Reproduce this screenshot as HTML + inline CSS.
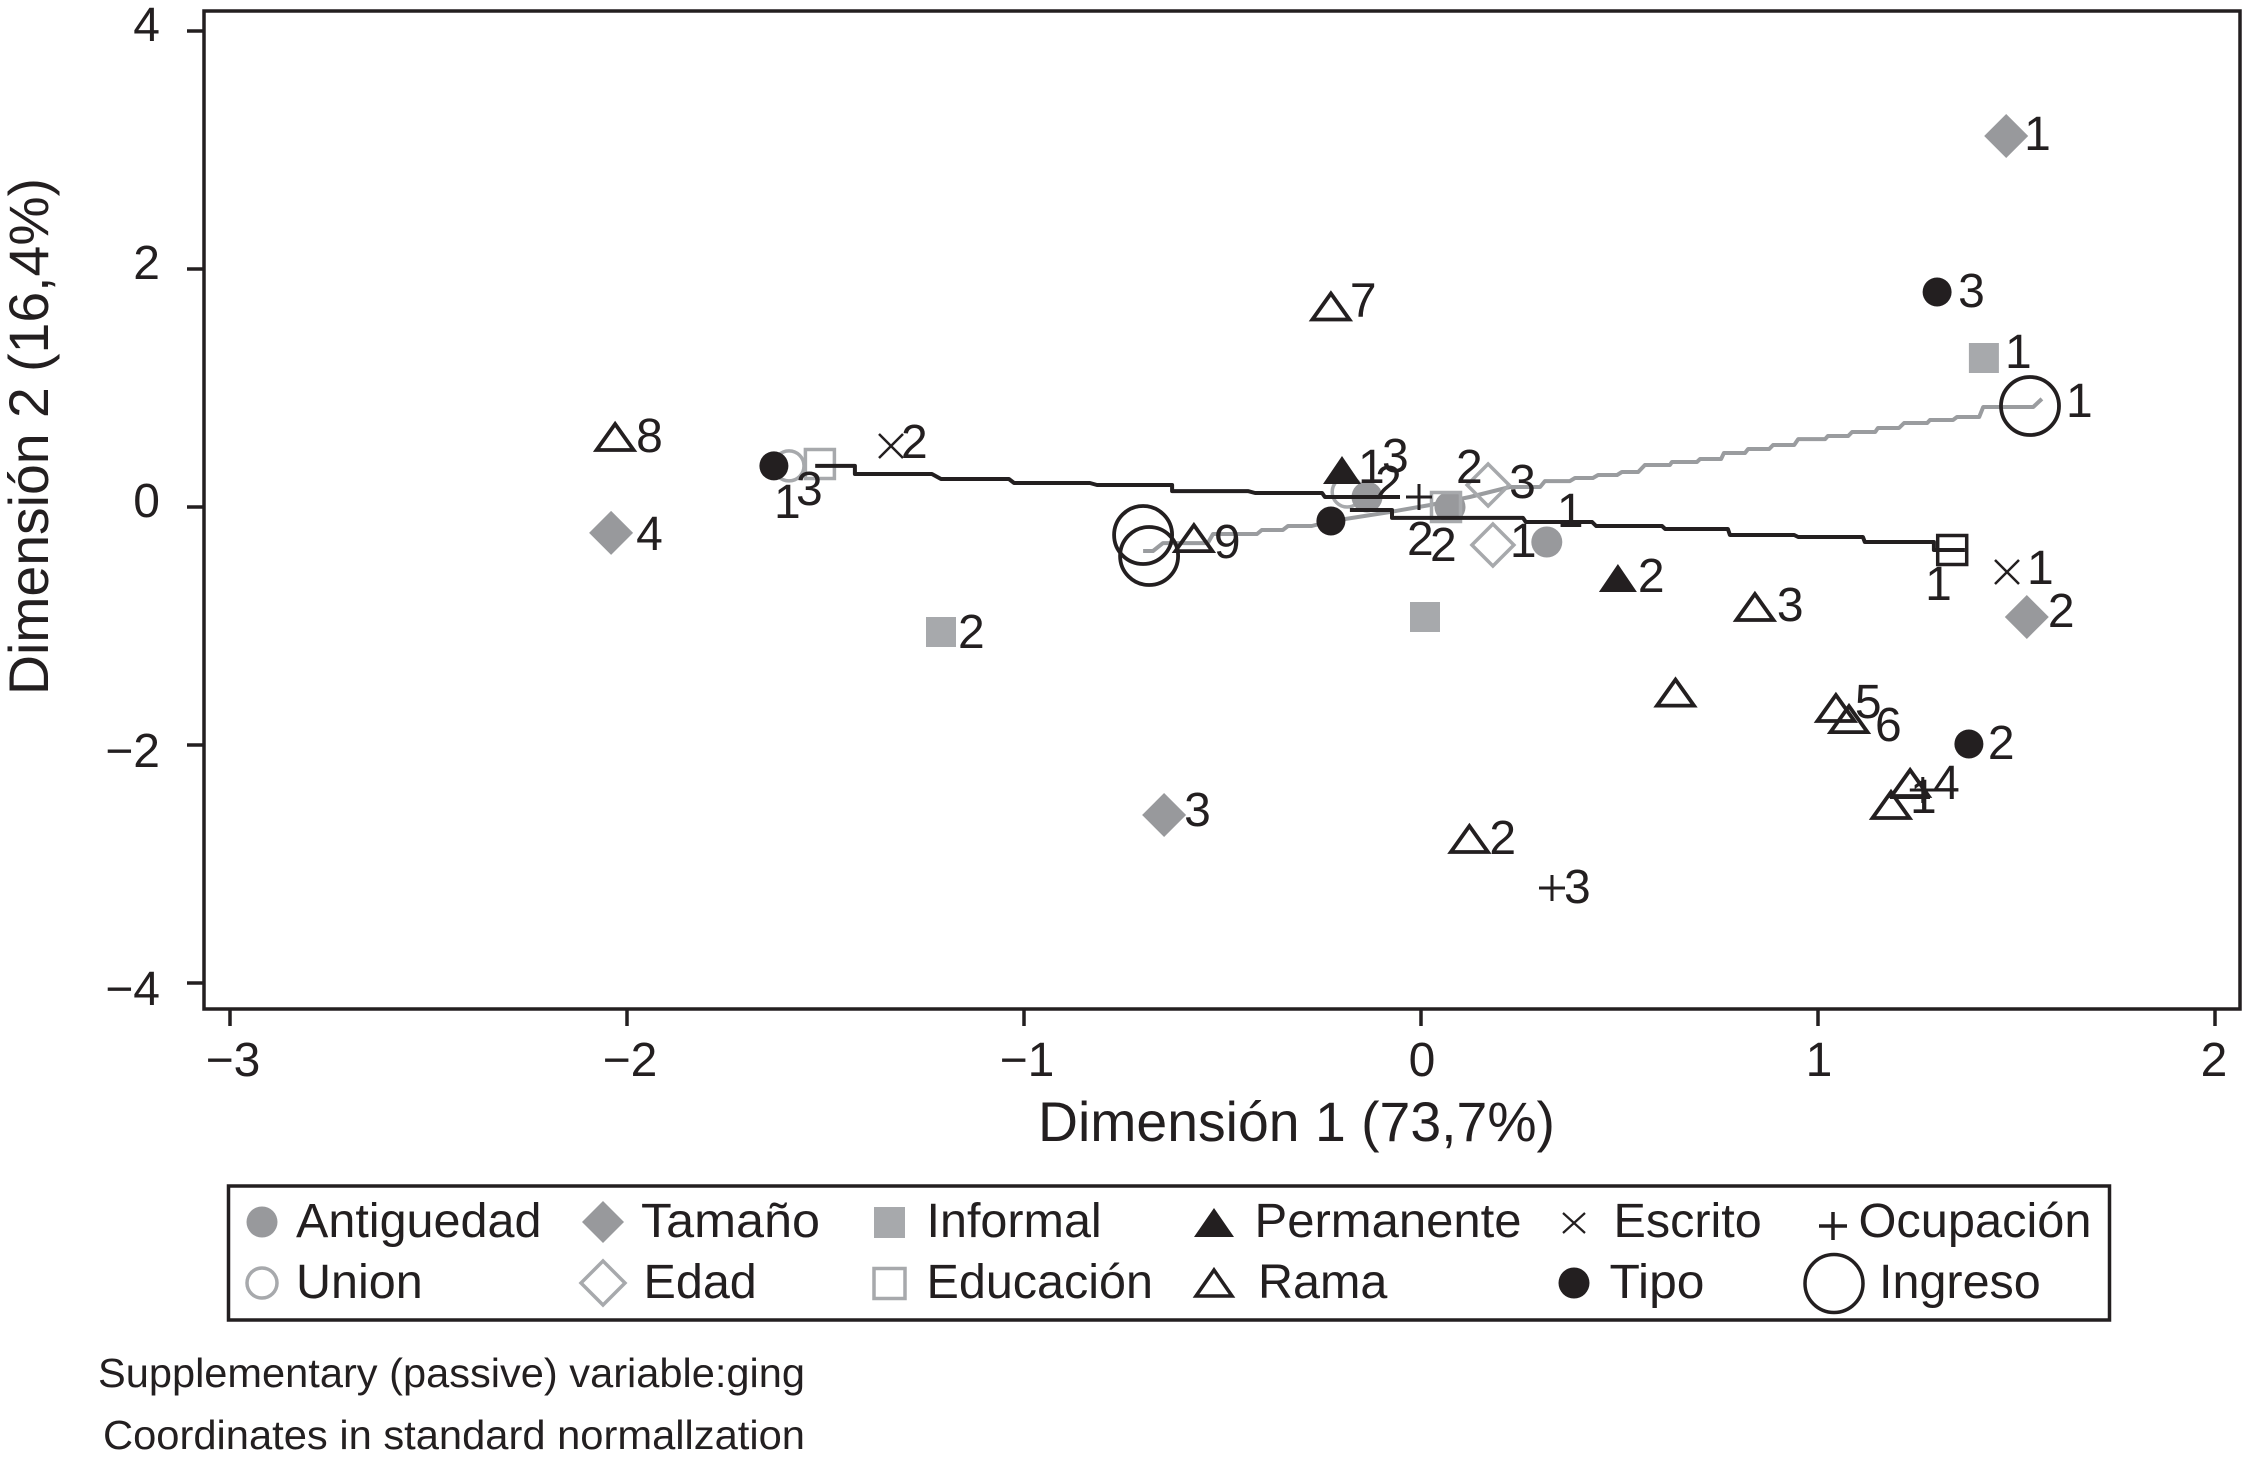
<!DOCTYPE html>
<html lang="es">
<head>
<meta charset="utf-8">
<title>Dimensión 1 vs Dimensión 2</title>
<style>
html,body{margin:0;padding:0;background:#fff;}
svg{display:block;}
text{font-family:"Liberation Sans",Arial,sans-serif;fill:#231f20;}
</style>
</head>
<body>
<svg id="chart" xmlns="http://www.w3.org/2000/svg" width="2242" height="1459" viewBox="0 0 2242 1459">
  <rect x="0" y="0" width="2242" height="1459" fill="#fff"/>
  <rect x="204" y="11" width="2036" height="998" fill="none" stroke="#231f20" stroke-width="3.5"/>
  <g id="ticks"></g>
  <text x="1038" y="1141" font-size="55.5" textLength="517" lengthAdjust="spacingAndGlyphs">Dimensión 1 (73,7%)</text>
  <text transform="translate(48,695) rotate(-90)" font-size="55.5" textLength="517" lengthAdjust="spacingAndGlyphs">Dimensión 2 (16,4%)</text>
  <g id="lines-under"></g>
  <g id="marks"></g>
  <g id="lines-over"></g>
  <g id="labels"></g>

  <g font-size="48.5">
    <rect x="228.5" y="1186" width="1881" height="134" fill="#fff" stroke="#231f20" stroke-width="3.5"/>
    <g><circle cx="262" cy="1222" r="15.5" fill="#98999c"/><text x="296" y="1237">Antiguedad</text></g>
    <g><polygon points="603,1201 624,1222 603,1243 582,1222" fill="#98999c"/><text x="641" y="1237" textLength="179" lengthAdjust="spacingAndGlyphs">Tamaño</text></g>
    <g><rect x="874" y="1207" width="31" height="31" fill="#a7a9ac"/><text x="926.5" y="1237">Informal</text></g>
    <g><polygon points="1214,1208 1234,1237 1194,1237" fill="#231f20"/><text x="1254.5" y="1237" textLength="267" lengthAdjust="spacingAndGlyphs">Permanente</text></g>
    <g><path d="M1563,1213L1585,1233M1585,1213L1563,1233" stroke="#231f20" stroke-width="2.2" fill="none"/><text x="1613.5" y="1237">Escrito</text></g>
    <g><path d="M1819,1226H1847M1833,1212V1240" stroke="#231f20" stroke-width="3.5" fill="none"/><text x="1858.5" y="1237" textLength="233" lengthAdjust="spacingAndGlyphs">Ocupación</text></g>
    <g><circle cx="262" cy="1283" r="15" fill="none" stroke="#a7a9ac" stroke-width="3.5"/><text x="296" y="1298">Union</text></g>
    <g><polygon points="603,1261 625,1283 603,1305 581,1283" fill="none" stroke="#a7a9ac" stroke-width="3.5"/><text x="643.5" y="1298">Edad</text></g>
    <g><rect x="874" y="1268.5" width="31" height="30" fill="none" stroke="#a7a9ac" stroke-width="3.5"/><text x="926.5" y="1298">Educación</text></g>
    <g><polygon points="1214,1270 1232,1296 1196,1296" fill="none" stroke="#231f20" stroke-width="3.5"/><text x="1258" y="1298">Rama</text></g>
    <g><circle cx="1574" cy="1283" r="15.5" fill="#231f20"/><text x="1609.5" y="1298" textLength="95" lengthAdjust="spacingAndGlyphs">Tipo</text></g>
    <g><circle cx="1834" cy="1283.5" r="29" fill="none" stroke="#231f20" stroke-width="3.5"/><text x="1879" y="1298">Ingreso</text></g>
  </g>

  <text x="98" y="1387" font-size="41" textLength="707" lengthAdjust="spacingAndGlyphs">Supplementary (passive) variable:ging</text>
  <text x="103" y="1449" font-size="41" textLength="702" lengthAdjust="spacingAndGlyphs">Coordinates in standard normallzation</text>
</svg>
<script>
const xTickValues = [-3, -2, -1, 0, 1, 2];
const yTickValues = [-4, -2, 0, 2, 4];

const antiguedadX = [0.317, 0.073, -0.136];
const antiguedadY = [-0.294, 0, 0.084];
const antiguedadLabels = ['1', '2', '3'];

const tamanoX = [1.474, 1.526, -0.647, -2.040];
const tamanoY = [3.118, -0.924, -2.588, -0.218];
const tamanoLabels = ['1', '2', '3', '4'];

const informalX = [1.418, -1.209, 0.010];
const informalY = [1.252, -1.050, -0.924];
const informalLabels = ['1', '2', ''];

const unionX = [-1.592, -0.186];
const unionY = [0.345, 0.126];
const unionLabels = ['1', '2'];

const edadX = [0.181, 0.169];
const edadY = [-0.319, 0.185];
const edadLabels = ['1', '3'];

const educacionX = [0.063, -1.514];
const educacionY = [0, 0.361];
const educacionLabels = ['2', '3'];

const educacionDarkX = [1.338];
const educacionDarkY = [-0.361];
const educacionDarkLabels = ['1'];

const permanenteX = [-0.199, 0.496];
const permanenteY = [0.311, -0.597];
const permanenteLabels = ['1', '2'];

const ramaX = [1.184, 0.122, 0.841, 0.641, 1.232, 1.045, 1.078, -0.227, -2.030, -0.572];
const ramaY = [-2.504, -2.790, -0.840, -1.560, -2.319, -1.689, -1.782, 1.685, 0.588, -0.261];
const ramaLabels = ['1', '2', '3', '', '4', '5', '6', '7', '8', '9'];

const escritoX = [1.476, -1.335];
const escritoY = [-0.546, 0.513];
const escritoLabels = ['1', '2'];

const tipoX = [1.300, 1.380, -1.630, -0.227];
const tipoY = [1.807, -1.992, 0.345, -0.118];
const tipoLabels = ['3', '2', '', ''];

const ocupacionX = [-0.005, 0.330, 1.264];
const ocupacionY = [0.084, -3.202, -2.378];
const ocupacionLabels = ['2', '3', ''];

const ingresoX = [1.534, -0.700, -0.685];
const ingresoY = [0.849, -0.235, -0.412];
const ingresoLabels = ['1', '', ''];

const blackLineLeftX = [-1.526,-1.426,-1.426,-1.232,-1.209,-1.038,-1.025,-0.834,-0.816,-0.627,-0.627,-0.436,-0.418,-0.249,-0.242,-0.053];
const blackLineLeftY = [0.345,0.345,0.277,0.277,0.235,0.235,0.202,0.202,0.185,0.185,0.134,0.134,0.118,0.118,0.084,0.084];

const blackLineRightX = [-0.179,-0.073,-0.073,0.257,0.264,0.431,0.441,0.607,0.615,0.773,0.778,0.940,0.950,1.113,1.118,1.292,1.292,1.370];
const blackLineRightY = [-0.025,-0.025,-0.092,-0.092,-0.126,-0.126,-0.160,-0.160,-0.185,-0.185,-0.235,-0.235,-0.252,-0.252,-0.294,-0.294,-0.361,-0.361];

const blackDashX = [1.181, 1.282];
const blackDashY = [-2.437, -2.437];

const greyLineX = [-0.700,-0.675,-0.650,-0.537,-0.524,-0.413,-0.401,-0.348,-0.335,-0.275,-0.227,-0.191,-0.078,0.023,0.123,0.224,0.300,0.312,0.375,0.388,0.433,0.446,0.494,0.506,0.547,0.564,0.627,0.632,0.695,0.703,0.756,0.763,0.816,0.824,0.877,0.887,0.940,0.950,1.018,1.025,1.076,1.086,1.144,1.151,1.204,1.217,1.275,1.282,1.340,1.350,1.406,1.416,1.542,1.564];
const greyLineY = [-0.370,-0.370,-0.303,-0.303,-0.227,-0.227,-0.193,-0.193,-0.160,-0.160,-0.118,-0.101,-0.042,0.017,0.084,0.168,0.168,0.218,0.218,0.244,0.244,0.269,0.269,0.294,0.294,0.353,0.353,0.378,0.378,0.403,0.403,0.454,0.454,0.487,0.487,0.521,0.521,0.571,0.571,0.597,0.597,0.630,0.630,0.664,0.664,0.706,0.706,0.731,0.731,0.756,0.756,0.840,0.840,0.908];

// Label placement relative to each marker (layout, not data)
const labelLayout = {
  antiguedad: [[10,-15],[-20,54],[15,-25]],
  tamano: [[18,14],[21,10],[20,11],[25,17]],
  informal: [[21,10],[17,16],[0,0]],
  union: [[-15,52],[28,7]],
  edad: [[17,12],[21,13]],
  educacion: [[10,-24],[-24,41]],
  educacionDark: [[-27,50]],
  permanente: [[16,13],[20,14]],
  rama: [[19,8],[20,15],[22,14],[0,0],[23,16],[19,10],[26,22],[19,10],[21,15],[20,20]],
  escrito: [[20,12],[10,12]],
  tipo: [[21,15],[19,15],[0,0],[0,0]],
  ocupacion: [[-12,58],[12,15],[0,0]],
  ingreso: [[36,11],[0,0],[0,0]]
};

const INK = '#231f20', GREY = '#98999c', LIGHT = '#a7a9ac', LINE_GREY = '#9a9c9f';
const NS = 'http://www.w3.org/2000/svg';
const xScale = v => 1421 + v * 397;
const yScale = v => 507 - v * 119;

function make(tag, parent, name, attrs) {
  const el = document.createElementNS(NS, tag);
  
  
  for (const k in attrs) el.setAttribute(k, attrs[k]);
  parent.appendChild(el);
  return el;
}

const ticksG = document.getElementById('ticks');
xTickValues.forEach(v => {
  const x = xScale(v);
  make('line', ticksG, 'x-tick', {x1: x, x2: x, y1: 1009, y2: 1026, stroke: INK, 'stroke-width': 3.5});
  const t = make('text', ticksG, 'x-tick-label', {x: x + (v === 2 ? -1 : (v < 0 ? 3 : 1)), y: 1076, 'font-size': 48, 'text-anchor': 'middle'});
  t.textContent = (v < 0 ? '\u2212' : '') + Math.abs(v);
});
yTickValues.forEach(v => {
  const y = yScale(v);
  make('line', ticksG, 'y-tick', {x1: 187, x2: 204, y1: y, y2: y, stroke: INK, 'stroke-width': 3.5});
  const t = make('text', ticksG, 'y-tick-label', {x: 160, y: y + (v < 0 ? 22 : 10), 'font-size': 48, 'text-anchor': 'end'});
  t.textContent = (v < 0 ? '\u2212' : '') + Math.abs(v);
});

function drawLine(parentId, name, xs, ys, color, width) {
  const pts = xs.map((x, i) => xScale(x).toFixed(1) + ',' + yScale(ys[i]).toFixed(1)).join(' ');
  make('polyline', document.getElementById(parentId), name, {points: pts, fill: 'none', stroke: color, 'stroke-width': width, 'stroke-linejoin': 'round'});
}
drawLine('lines-under', 'grey-stepped-line', greyLineX, greyLineY, LINE_GREY, 4);

const marksG = document.getElementById('marks');
const shapes = {
  dotGrey: (x, y, n) => make('circle', marksG, n, {cx: x, cy: y, r: 15.5, fill: GREY}),
  diamondGrey: (x, y, n) => make('polygon', marksG, n, {points: `${x},${y-22} ${x+22},${y} ${x},${y+22} ${x-22},${y}`, fill: GREY}),
  squareGrey: (x, y, n) => make('rect', marksG, n, {x: x-15, y: y-15, width: 30, height: 30, fill: LIGHT}),
  circleOpen: (x, y, n) => make('circle', marksG, n, {cx: x, cy: y, r: 15, fill: 'none', stroke: LIGHT, 'stroke-width': 3.5}),
  diamondOpen: (x, y, n) => make('polygon', marksG, n, {points: `${x},${y-21} ${x+21},${y} ${x},${y+21} ${x-21},${y}`, fill: 'none', stroke: LIGHT, 'stroke-width': 3.5}),
  squareOpen: (x, y, n) => make('rect', marksG, n, {x: x-14.5, y: y-14.5, width: 29, height: 29, fill: 'none', stroke: LIGHT, 'stroke-width': 3.5}),
  squareDark: (x, y, n) => make('rect', marksG, n, {x: x-14.5, y: y-14.5, width: 29, height: 29, fill: 'none', stroke: INK, 'stroke-width': 3.5}),
  triFilled: (x, y, n) => make('polygon', marksG, n, {points: `${x},${y-14} ${x+19},${y+14} ${x-19},${y+14}`, fill: INK}),
  triOpen: (x, y, n) => make('polygon', marksG, n, {points: `${x},${y-13} ${x+18.5},${y+13} ${x-18.5},${y+13}`, fill: 'none', stroke: INK, 'stroke-width': 3.8}),
  cross: (x, y, n) => make('path', marksG, n, {d: `M${x-12},${y-12}L${x+12},${y+12}M${x+12},${y-12}L${x-12},${y+12}`, fill: 'none', stroke: INK, 'stroke-width': 2.5}),
  dotBlack: (x, y, n) => make('circle', marksG, n, {cx: x, cy: y, r: 14.5, fill: INK}),
  plus: (x, y, n) => make('path', marksG, n, {d: `M${x-13},${y}H${x+13}M${x},${y-13}V${y+13}`, fill: 'none', stroke: INK, 'stroke-width': 3}),
  ringLarge: (x, y, n) => make('circle', marksG, n, {cx: x, cy: y, r: 29, fill: 'none', stroke: INK, 'stroke-width': 3.8})
};

const labelsG = document.getElementById('labels');
function drawSeries(key, shape, xs, ys, labels) {
  xs.forEach((v, i) => {
    const px = xScale(v), py = yScale(ys[i]);
    shapes[shape](+px.toFixed(1), +py.toFixed(1), key + '-point-' + (i + 1));
    if (labels[i]) {
      const off = labelLayout[key][i];
      const t = make('text', labelsG, key + '-label-' + labels[i], {x: px + off[0], y: py + off[1], 'font-size': 48});
      t.textContent = labels[i];
    }
  });
}
drawSeries('union', 'circleOpen', unionX, unionY, unionLabels);
drawSeries('antiguedad', 'dotGrey', antiguedadX, antiguedadY, antiguedadLabels);
drawSeries('tamano', 'diamondGrey', tamanoX, tamanoY, tamanoLabels);
drawSeries('informal', 'squareGrey', informalX, informalY, informalLabels);
drawSeries('edad', 'diamondOpen', edadX, edadY, edadLabels);
drawSeries('educacion', 'squareOpen', educacionX, educacionY, educacionLabels);
drawSeries('educacionDark', 'squareDark', educacionDarkX, educacionDarkY, educacionDarkLabels);
drawSeries('permanente', 'triFilled', permanenteX, permanenteY, permanenteLabels);
drawSeries('rama', 'triOpen', ramaX, ramaY, ramaLabels);
drawSeries('escrito', 'cross', escritoX, escritoY, escritoLabels);
drawSeries('tipo', 'dotBlack', tipoX, tipoY, tipoLabels);
drawSeries('ocupacion', 'plus', ocupacionX, ocupacionY, ocupacionLabels);
drawSeries('ingreso', 'ringLarge', ingresoX, ingresoY, ingresoLabels);

drawLine('lines-over', 'black-stepped-line-left', blackLineLeftX, blackLineLeftY, INK, 4);
drawLine('lines-over', 'black-stepped-line-right', blackLineRightX, blackLineRightY, INK, 4);
drawLine('lines-over', 'black-dash', blackDashX, blackDashY, INK, 4);
</script>
</body>
</html>
